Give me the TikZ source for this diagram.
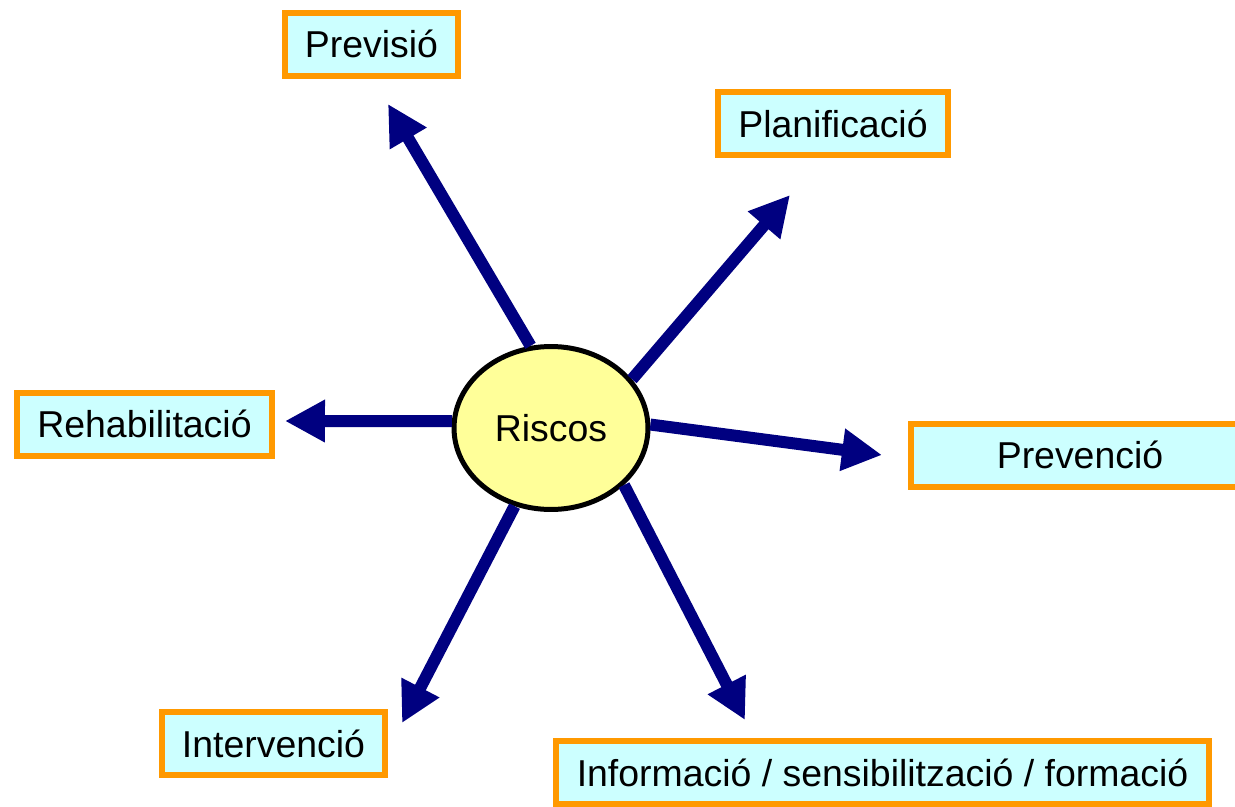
\documentclass[tikz,border=0pt]{standalone}
\usepackage{fontspec}
\setmainfont{Liberation Sans}
\usetikzlibrary{arrows.meta,shapes.geometric}

\definecolor{navy}{HTML}{000080}
\definecolor{boxorange}{HTML}{FF9900}
\definecolor{boxcyan}{HTML}{CCFFFF}
\definecolor{riscyellow}{HTML}{FFFF99}

\tikzset{
  tasca/.style={rectangle,draw=boxorange,fill=boxcyan,line width=0.12cm,
    minimum height=1.26cm,inner sep=0pt,anchor=center,
    font=\fontsize{21.3pt}{25pt}\selectfont},
  fletxa/.style={draw=navy,line width=0.24cm,
    -{Triangle[length=0.8cm,width=0.8cm]}}
}

\begin{document}
\begin{tikzpicture}[x=0.02cm,y=-0.02cm]
      \useasboundingbox (0,0) rectangle (1235,806);

      \node [ellipse,draw,fill=riscyellow,line width=0.1cm,
      minimum width=3.88cm,minimum height=3.26cm,inner sep=0pt,
      font=\fontsize{21.3pt}{25pt}\selectfont] (riscos) at (551,428) {Riscos};

      \node [tasca,minimum width=3.46cm] (previsio) at (371.5,44) {Previsió};
      \node [tasca,minimum width=4.60cm] (planif) at (833,123.5) {Planificació};
      \node [tasca,minimum width=5.10cm] (rehab) at (144.5,424) {Rehabilitació};
      \node [tasca,minimum width=6.76cm] (preven) at (1080,455) {Prevenció};
      \node [tasca,minimum width=4.46cm] (interv) at (273.5,743.5) {Intervenció};
      \node [tasca,minimum width=13.06cm] (inform) at (882.5,772.5)
      {Informació / sensibilització / formació};

      \coordinate (tPrevisio) at (388,104);
      \coordinate (tPlanif) at (790,195);
      \coordinate (tRehab) at (285,421);
      \coordinate (tPreven) at (882,455);
      \coordinate (tInterv) at (402,723);
      \coordinate (tInform) at (745,720);

      \draw [fletxa] (riscos.104) -- (tPrevisio);
      \draw [fletxa] (riscos.31) -- (tPlanif);
      \draw [fletxa] (riscos.176) -- (tRehab);
      \draw [fletxa] (riscos.2) -- (tPreven);
      \draw [fletxa] (riscos.245) -- (tInterv);
      \draw [fletxa] (riscos.322) -- (tInform);
  \end{tikzpicture}
\end{document}
